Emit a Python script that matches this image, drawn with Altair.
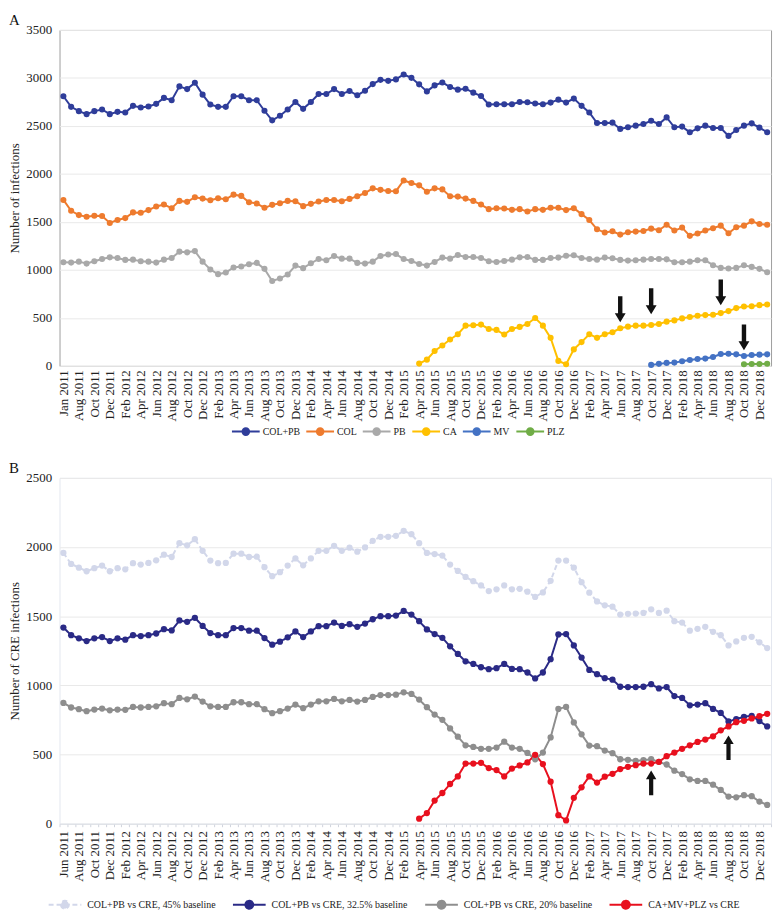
import altair as alt
import pandas as pd

FONT = "Liberation Serif"

# ---------------- categories ----------------
MONTH_ABBR = ["Jan", "Feb", "Mar", "Apr", "May", "Jun", "Jul", "Aug", "Sep", "Oct", "Nov", "Dec"]
MONTHS = []
_y, _m = 2011, 5
for _ in range(92):
    MONTHS.append(f"{MONTH_ABBR[_m]} {_y}")
    _m += 1
    if _m == 12:
        _m = 0
        _y += 1

# ---------------- panel A data ----------------
TOP_SERIES = ["COL+PB", "COL", "PB", "CA", "MV", "PLZ"]
TOP_COLORS = ["#2f3d9a", "#ee7b2e", "#a9a9a9", "#ffc000", "#4472c4", "#70ad47"]
TOP_START = [0, 0, 0, 46, 76, 88]

COLPB = [2809, 2699, 2654, 2623, 2654, 2671, 2623, 2647, 2640, 2709,
         2692, 2702, 2730, 2792, 2768, 2912, 2884, 2950, 2826, 2723,
         2699, 2699, 2809, 2809, 2768, 2768, 2658, 2558, 2606, 2671,
         2750, 2678, 2750, 2833, 2833, 2884, 2833, 2864, 2819, 2867,
         2936, 2980, 2970, 2985, 3036, 3001, 2933, 2860, 2922, 2953,
         2905, 2878, 2888, 2847, 2812, 2723, 2726, 2726, 2726, 2750,
         2747, 2733, 2726, 2743, 2774, 2743, 2785, 2709, 2640, 2530,
         2530, 2534, 2469, 2486, 2503, 2520, 2554, 2520, 2589, 2486,
         2493, 2434, 2475, 2503, 2479, 2479, 2396, 2458, 2503, 2527,
         2482, 2434]
COL = [1729, 1616, 1571, 1554, 1564, 1561, 1489, 1520, 1540, 1599,
       1595, 1623, 1661, 1681, 1643, 1719, 1709, 1757, 1743, 1726,
       1747, 1736, 1784, 1771, 1705, 1692, 1647, 1678, 1695, 1719,
       1716, 1664, 1688, 1712, 1729, 1729, 1716, 1740, 1767, 1801,
       1850, 1834, 1822, 1820, 1932, 1905, 1881, 1815, 1850, 1839,
       1767, 1764, 1743, 1719, 1681, 1633, 1643, 1640, 1626, 1633,
       1609, 1633, 1626, 1647, 1647, 1623, 1643, 1581, 1520, 1423,
       1389, 1403, 1368, 1392, 1399, 1406, 1430, 1413, 1471, 1410,
       1441, 1355, 1379, 1410, 1434, 1461, 1382, 1444, 1461, 1506,
       1478, 1471]
PB = [1080, 1076, 1086, 1066, 1090, 1114, 1131, 1124, 1104, 1107,
      1090, 1086, 1076, 1107, 1124, 1190, 1183, 1196, 1086, 1004,
      956, 973, 1025, 1035, 1059, 1073, 1011, 884, 911, 952,
      1045, 1018, 1069, 1114, 1100, 1145, 1117, 1117, 1073, 1066,
      1086, 1145, 1160, 1165, 1114, 1093, 1062, 1045, 1083, 1128,
      1117, 1155, 1135, 1135, 1124, 1090, 1083, 1093, 1107, 1131,
      1135, 1104, 1104, 1124, 1128, 1148, 1152, 1124, 1114, 1107,
      1128, 1121, 1104, 1097, 1100, 1107, 1114, 1114, 1110, 1080,
      1080, 1086, 1100, 1100, 1049, 1021, 1014, 1021, 1049, 1031,
      1011, 976]
CA = [24, 65, 155, 213, 275, 330, 419, 423, 430, 385,
      375, 327, 385, 406, 437, 499, 419, 292, 52, 17,
      172, 248, 330, 292, 330, 351, 392, 409, 419, 419,
      426, 437, 461, 474, 495, 509, 523, 529, 533, 550,
      571, 602, 619, 622, 633, 639]
MV = [10, 21, 31, 34, 48, 62, 72, 76, 93, 124, 127, 120, 103, 113, 117, 120]
PLZ = [17, 20, 20, 22]

TOP_ARROW_MONTHS = ["Jun 2017", "Oct 2017", "Jul 2018", "Oct 2018"]
TOP_ARROW_Y = [590, 673, 766, 297]

# ---------------- panel B data ----------------
BOT_SERIES = ["COL+PB vs CRE, 45% baseline", "COL+PB vs CRE, 32.5% baseline",
              "COL+PB vs CRE, 20% baseline", "CA+MV+PLZ vs CRE"]
BOT_COLORS = ["#d2d7ea", "#2a2a86", "#8e8e8e", "#e8101e"]
BOT_START = [0, 0, 0, 46]

B45 = [1957, 1878, 1851, 1825, 1847, 1866, 1825, 1847, 1839, 1883,
       1873, 1885, 1904, 1945, 1928, 2028, 2012, 2057, 1973, 1902,
       1883, 1885, 1952, 1952, 1928, 1930, 1854, 1789, 1818, 1866,
       1918, 1868, 1918, 1973, 1973, 2009, 1973, 1995, 1966, 1997,
       2045, 2074, 2074, 2081, 2117, 2093, 2028, 1957, 1949, 1938,
       1873, 1827, 1784, 1753, 1722, 1682, 1694, 1722, 1694, 1698,
       1677, 1639, 1672, 1756, 1902, 1902, 1851, 1746, 1670, 1607,
       1579, 1569, 1512, 1517, 1519, 1524, 1550, 1524, 1540, 1464,
       1454, 1395, 1409, 1423, 1387, 1363, 1289, 1318, 1344, 1351,
       1311, 1270]
B325 = [1418, 1363, 1340, 1320, 1340, 1349, 1320, 1340, 1330, 1363,
        1356, 1363, 1375, 1406, 1397, 1469, 1459, 1488, 1430, 1378,
        1363, 1363, 1414, 1414, 1395, 1395, 1342, 1294, 1316, 1347,
        1390, 1349, 1390, 1428, 1428, 1454, 1430, 1442, 1423, 1447,
        1478, 1500, 1500, 1505, 1538, 1512, 1464, 1404, 1371, 1344,
        1282, 1227, 1174, 1155, 1131, 1117, 1124, 1155, 1119, 1117,
        1093, 1050, 1093, 1189, 1368, 1371, 1289, 1201, 1112, 1081,
        1052, 1041, 990, 988, 988, 990, 1009, 978, 988, 923,
        909, 856, 861, 871, 830, 801, 739, 756, 773, 780,
        742, 703]
B20 = [873, 840, 828, 813, 825, 832, 820, 825, 823, 844,
       840, 844, 849, 871, 864, 909, 899, 919, 883, 849,
       844, 844, 878, 878, 864, 864, 828, 799, 813, 832,
       861, 835, 861, 885, 885, 902, 885, 895, 883, 895,
       916, 930, 930, 933, 950, 938, 897, 842, 789, 751,
       689, 629, 567, 555, 541, 541, 550, 593, 550, 541,
       512, 466, 514, 624, 830, 844, 732, 646, 565, 560,
       529, 510, 466, 462, 454, 459, 466, 447, 428, 383,
       359, 321, 309, 309, 282, 244, 196, 191, 206, 199,
       160, 136]
NEW = [36, 77, 167, 222, 287, 342, 435, 435, 440, 402,
       388, 342, 399, 421, 443, 498, 431, 304, 62, 24,
       187, 263, 342, 297, 340, 361, 395, 411, 423, 435,
       435, 447, 488, 514, 541, 567, 591, 608, 632, 675,
       703, 734, 744, 761, 777, 794]

BOT_ARROW_MONTHS = ["Oct 2017", "Aug 2018"]
BOT_ARROW_Y = [295, 549]

PANEL_LABELS = ["A", "B"]


def build(names, values, starts):
    rows = []
    for k, (name, vals, st) in enumerate(zip(names, values, starts)):
        for j, v in enumerate(vals):
            rows.append({"month": MONTHS[st + j], "value": v, "series": name, "k": k})
    return pd.DataFrame(rows)


top_df = build(TOP_SERIES, [COLPB, COL, PB, CA, MV, PLZ], TOP_START)
bot_df = build(BOT_SERIES, [B45, B325, B20, NEW], BOT_START)
top_arrows = pd.DataFrame({"month": TOP_ARROW_MONTHS, "value": TOP_ARROW_Y})
bot_arrows = pd.DataFrame({"month": BOT_ARROW_MONTHS, "value": BOT_ARROW_Y})

EVEN = "indexof(['Jun','Aug','Oct','Dec','Feb','Apr'], substring(datum.value, 0, 3)) >= 0"
TOP_LABEL = f"datum.value == 'Jun 2011' ? 'Jan 2011' : ({EVEN} ? datum.value : '')"
BOT_LABEL = f"{EVEN} ? datum.value : ''"

ARROW_DOWN = "M-0.17,-1L0.17,-1L0.17,0.3L0.42,0.3L0,1L-0.42,0.3L-0.17,0.3Z"
ARROW_UP = "M-0.17,1L0.17,1L0.17,-0.3L0.42,-0.3L0,-1L-0.42,-0.3L-0.17,-0.3Z"
LEG_SYMBOL = "M-1,0L1,0M-0.24,0A0.24,0.24,0,1,0,0.24,0A0.24,0.24,0,1,0,-0.24,0Z"


def color_expr(names, colors):
    n = ",".join(f"'{s}'" for s in names)
    c = ",".join(f"'{s}'" for s in colors)
    return f"[{c}][indexof([{n}], datum.value)]"


def x_enc(label_expr, ticks):
    return alt.X(
        "month:N",
        scale=alt.Scale(type="band", domain=MONTHS, paddingInner=0, paddingOuter=0),
        axis=alt.Axis(
            title=None, labelAngle=270, labelExpr=label_expr, labelOverlap=False,
            labelFont=FONT, labelFontSize=13, labelColor="#222", labelPadding=4,
            ticks=ticks, tickBand="extent", tickSize=3, tickColor="#cfd3dd",
            domain=ticks, domainColor="#dde0e8", grid=False,
        ),
    )


def y_enc(top, title):
    return alt.Y(
        "value:Q",
        scale=alt.Scale(domain=[0, top]),
        axis=alt.Axis(
            title=title, values=list(range(0, top + 1, 500)), format="d", ticks=False,
            domain=False, grid=True, gridColor="#e9e9e9", labelFont=FONT,
            labelFontSize=13, labelColor="#222", labelPadding=8, titleFont=FONT,
            titleFontSize=13, titleFontWeight="normal", titleColor="#222",
            titlePadding=4,
        ),
    )


def panel_label(letter):
    return alt.Chart(pd.DataFrame({"t": [letter]})).mark_text(
        align="left", baseline="top", fontSize=15, font=FONT, color="#111"
    ).encode(text="t:N", x=alt.value(-51), y=alt.value(-17))


# ---------------- panel A ----------------
top_expr = color_expr(TOP_SERIES, TOP_COLORS)
top_lines = alt.Chart(top_df).mark_line(
    strokeWidth=2, point=alt.OverlayMarkDef(filled=True, size=38, opacity=1)
).encode(
    x=x_enc(TOP_LABEL, False),
    y=y_enc(3500, "Number of infections"),
    color=alt.Color(
        "series:N",
        scale=alt.Scale(domain=TOP_SERIES, range=TOP_COLORS),
        legend=alt.Legend(
            orient="none", legendX=173, legendY=390, direction="horizontal", title=None,
            symbolType=LEG_SYMBOL, symbolSize=784, symbolStrokeWidth=2,
            symbolFillColor={"expr": top_expr},
            labelFont=FONT, labelFontSize=10, labelColor="#222", labelOffset=2,
            columnPadding=2,
        ),
    ),
    order="k:Q",
)
top_arr = alt.Chart(top_arrows).mark_point(
    shape=ARROW_DOWN, filled=True, color="#111", opacity=1, size=680
).encode(x=x_enc(TOP_LABEL, False), y=y_enc(3500, "Number of infections"))

top = alt.layer(top_lines, top_arr, panel_label(PANEL_LABELS[0])).properties(
    width=718, height=339,
    view=alt.ViewBackground(stroke="#9d9d9d", strokeWidth=1),
)

# ---------------- panel B ----------------
bot_expr = color_expr(BOT_SERIES, BOT_COLORS)
dash_expr = f"datum.value == '{BOT_SERIES[0]}' ? [4,3] : [1,0]"
bot_lines = alt.Chart(bot_df).mark_line(
    strokeWidth=2, point=alt.OverlayMarkDef(filled=True, size=40, opacity=1)
).encode(
    x=x_enc(BOT_LABEL, True),
    y=y_enc(2500, "Number of CRE infections"),
    color=alt.Color(
        "series:N",
        scale=alt.Scale(domain=BOT_SERIES, range=BOT_COLORS),
        legend=alt.Legend(
            orient="none", legendX=-12, legendY=413, direction="horizontal", title=None,
            symbolType=LEG_SYMBOL, symbolSize=1089, symbolStrokeWidth=2,
            symbolFillColor={"expr": bot_expr}, symbolDash={"expr": dash_expr},
            labelFont=FONT, labelFontSize=10, labelColor="#222", labelOffset=5,
            columnPadding=13,
        ),
    ),
    strokeDash=alt.StrokeDash(
        "series:N",
        scale=alt.Scale(domain=BOT_SERIES, range=[[5, 3], [1, 0], [1, 0], [1, 0]]),
        legend=None,
    ),
    order="k:Q",
)
bot_arr = alt.Chart(bot_arrows).mark_point(
    shape=ARROW_UP, filled=True, color="#111", opacity=1, size=620
).encode(x=x_enc(BOT_LABEL, True), y=y_enc(2500, "Number of CRE infections"))

bottom = alt.layer(bot_lines, bot_arr, panel_label(PANEL_LABELS[1])).properties(
    width=718, height=349,
    view=alt.ViewBackground(stroke="#e4e7ef", strokeWidth=1),
)

chart = alt.vconcat(top, bottom, spacing=20).resolve_scale(
    color="independent", x="independent", y="independent", strokeDash="independent"
).resolve_legend(color="independent").properties(
    padding=0, background="white"
).configure(font=FONT)

chart.save("out.html", embed_options={"renderer": "svg", "actions": False})
